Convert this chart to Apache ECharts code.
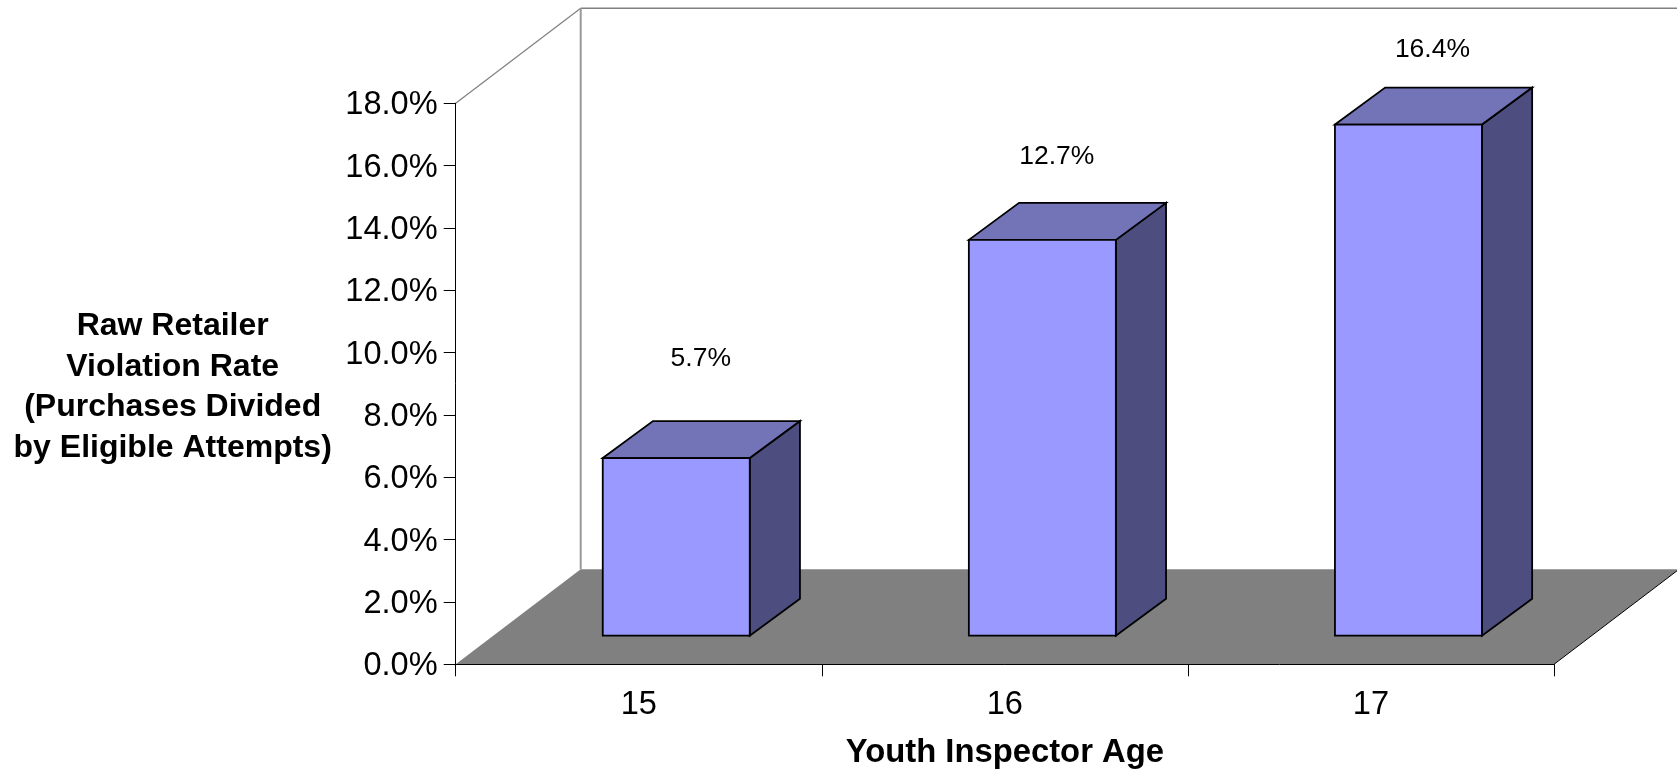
<!DOCTYPE html>
<html><head><meta charset="utf-8">
<style>html,body{margin:0;padding:0;background:#fff}#c{width:1677px;height:770px}</style>
<script src="https://cdn.jsdelivr.net/npm/echarts@6/dist/echarts.min.js"></script>
</head><body><div id="c"></div>
<script>
const categories = ['15', '16', '17'];
const values = [5.7, 12.7, 16.4];
const labels = ['5.7%', '12.7%', '16.4%'];
const axisMin = 0, axisMax = 18, axisStep = 2;
const yTitle = 'Raw Retailer\nViolation Rate\n(Purchases Divided\nby Eligible Attempts)';
const xTitle = 'Youth Inspector Age';

// projection constants (pixels): depth of the box and where a bar sits inside it
const G = {left: 455.7, top: 103.3, width: 1098.3, height: 561};
const DEPTH = {x: 125, y: -95};
const BAR = {front: {x: 37.5, y: -28.6}, depth: {x: 50.2, y: -37}, width: 147};
const LABEL = {dx: [24.5, 14.5, 24], dy: [-99.7, -83, -74.6]};
const C = {front: '#9999FF', top: '#7373B8', side: '#4D4D80', floor: '#808080', wall: '#999999', edge: '#808080'};

function poly(points, fill, stroke, lw) {
  return {type: 'polygon', shape: {points}, style: {fill, stroke: stroke || 'none', lineWidth: lw || 0, lineJoin: 'miter'}};
}
function seg(a, b, stroke, lw) {
  return {type: 'line', shape: {x1: a[0], y1: a[1], x2: b[0], y2: b[1]}, style: {stroke, lineWidth: lw}};
}

const chart = echarts.init(document.getElementById('c'), null, {renderer: 'canvas'});
chart.setOption({
  animation: false,
  backgroundColor: '#fff',
  grid: {left: G.left, top: G.top, width: G.width, height: G.height, outerBoundsMode: 'none'},
  title: {
    text: yTitle, left: 172.7, top: 305.8, textAlign: 'center', padding: 0,
    textStyle: {fontFamily: 'Liberation Sans', fontSize: 32, fontWeight: 'bold', color: '#000', lineHeight: 40.6}
  },
  xAxis: {
    type: 'category', data: categories, z: 5,
    axisLine: {lineStyle: {color: '#000', width: 1}},
    axisTick: {show: true, alignWithLabel: false, length: 12, lineStyle: {color: '#000', width: 1}},
    axisLabel: {fontFamily: 'Liberation Sans', fontSize: 32.6, color: '#000', margin: 24},
    name: xTitle, nameLocation: 'middle', nameGap: 72,
    nameTextStyle: {fontFamily: 'Liberation Sans', fontSize: 32.8, fontWeight: 'bold', color: '#000'}
  },
  yAxis: {
    type: 'value', min: axisMin, max: axisMax, interval: axisStep, z: 5,
    splitLine: {show: false},
    axisLine: {show: true, lineStyle: {color: '#000', width: 1}},
    axisTick: {show: true, length: 12, lineStyle: {color: '#000', width: 1}},
    axisLabel: {fontFamily: 'Liberation Sans', fontSize: 32.6, color: '#000', margin: 18, verticalAlign: 'top', lineHeight: 4, formatter: v => v.toFixed(1) + '%'}
  },
  series: [
    {
      type: 'custom', coordinateSystem: 'cartesian2d', silent: true, z: 1, clip: false,
      data: [[0, axisMin]],
      encode: {x: 0, y: 1},
      renderItem(params, api) {
        const bl = api.coord([0, axisMin]);
        const tl = api.coord([0, axisMax]);
        const halfBand = api.size([1, 0])[0] / 2;
        const l = bl[0] - halfBand;
        const r = l + api.size([1, 0])[0] * categories.length;
        const y0 = bl[1], y1 = tl[1], dx = DEPTH.x, dy = DEPTH.y;
        return {type: 'group', children: [
          poly([[l, y0], [r, y0], [r + dx, y0 + dy], [l + dx, y0 + dy]], C.floor),
          seg([l, y1], [l + dx, y1 + dy], C.edge, 1.2),
          seg([l + dx, y1 + dy], [r + dx, y1 + dy], C.edge, 1.5),
          seg([l + dx, y1 + dy], [l + dx, y0 + dy], C.wall, 2),
          seg([r, y0], [r + dx, y0 + dy], '#000', 1)
        ]};
      }
    },
    {
      type: 'custom', coordinateSystem: 'cartesian2d', silent: true, z: 2, clip: false,
      data: values.map((v, i) => [i, v]),
      encode: {x: 0, y: 1},
      renderItem(params, api) {
        const i = api.value(0), v = api.value(1);
        const base = api.coord([i, axisMin]);
        const top = api.coord([i, v]);
        const cx = base[0] + BAR.front.x;
        const l = cx - BAR.width / 2, r = cx + BAR.width / 2;
        const yb = base[1] + BAR.front.y, yt = top[1] + BAR.front.y;
        const dx = BAR.depth.x, dy = BAR.depth.y;
        const k = '#000', w = 1.8;
        return {type: 'group', children: [
          poly([[r, yt], [r + dx, yt + dy], [r + dx, yb + dy], [r, yb]], C.side, k, w),
          poly([[l, yt], [l + dx, yt + dy], [r + dx, yt + dy], [r, yt]], C.top, k, w),
          poly([[l, yt], [r, yt], [r, yb], [l, yb]], C.front, k, w),
          {type: 'text', style: {
            text: labels[i], x: cx + LABEL.dx[i], y: yt + LABEL.dy[i],
            align: 'center', verticalAlign: 'middle', fill: '#000',
            fontFamily: 'Liberation Sans', fontSize: 26.5
          }}
        ]};
      }
    }
  ]
});
</script></body></html>
